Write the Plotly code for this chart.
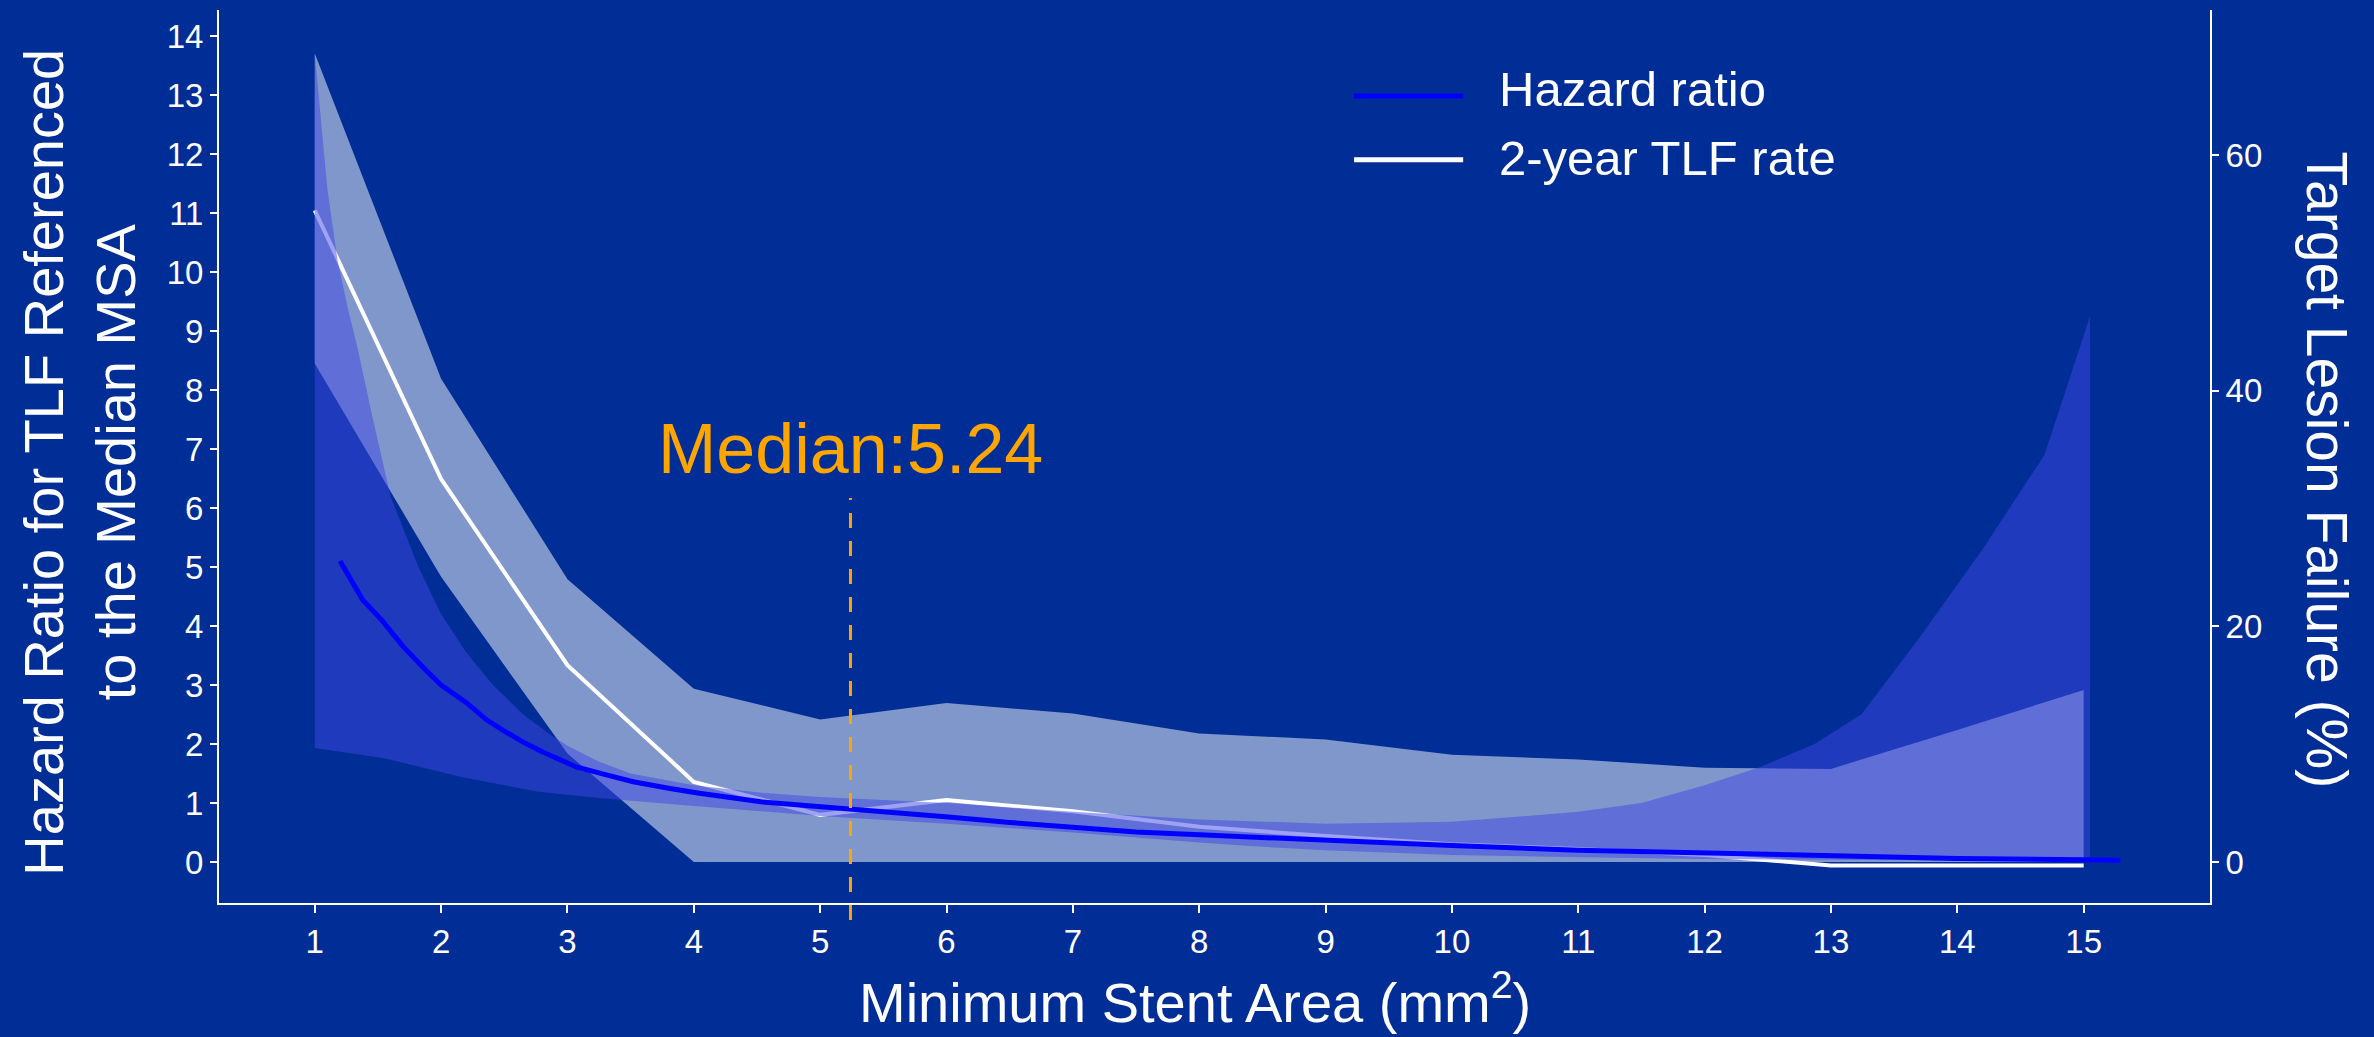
import plotly.graph_objects as go

# ---------------- data ----------------
BG = "#002E96"
FONT = "Liberation Sans, Arial, sans-serif"

X_TICKS = list(range(1, 16))
HR_TICKS = list(range(0, 15))
PCT_TICKS = [0, 20, 40, 60]

MEDIAN_MSA = 5.24
MEDIAN_LABEL = "Median:5.24"

# Hazard ratio (left axis)
hr_x = [1.2, 1.38, 1.53, 1.7, 1.88, 2.0, 2.2, 2.36, 2.5, 2.66, 2.8, 3.07, 3.3, 3.52,
        3.8, 4.03, 4.53, 5.0, 5.24, 5.5, 6.04, 6.5, 7.06, 7.5, 8.0, 8.41, 9.0, 10.0,
        11.0, 12.0, 13.0, 14.0, 15.0, 15.29]
hr_y = [5.1, 4.44, 4.10, 3.65, 3.25, 3.0, 2.7, 2.41, 2.22, 2.02, 1.87, 1.61, 1.48, 1.36,
        1.25, 1.17, 1.02, 0.94, 0.91, 0.87, 0.76, 0.67, 0.59, 0.51, 0.46, 0.42, 0.36, 0.28,
        0.2, 0.15, 0.1, 0.06, 0.04, 0.03]

# Hazard ratio 95% CI
hr_up_x = [1.0, 1.05, 1.1, 1.18, 1.26, 1.34, 1.45, 1.6, 1.82, 2.0, 2.2, 2.41, 2.65, 2.87,
           3.0, 3.25, 3.5, 4.0, 4.5, 5.0, 5.5, 6.0, 7.0, 8.0, 9.0, 10.0, 11.0, 11.5, 12.0,
           12.43, 12.87, 13.24, 13.7, 14.2, 14.69, 15.05]
hr_up = [13.7, 12.5, 11.4, 10.2, 9.4, 8.7, 7.6, 6.2, 5.0, 4.2, 3.55, 3.0, 2.5, 2.15,
         1.97, 1.7, 1.5, 1.3, 1.18, 1.1, 1.05, 1.0, 0.85, 0.72, 0.65, 0.68, 0.85, 1.0, 1.3,
         1.6, 2.0, 2.5, 3.8, 5.3, 6.9, 9.25]
hr_lo_x = [1.0, 1.55, 2.16, 2.77, 3.27, 4.0, 5.0, 5.24, 6.0, 7.0, 8.0, 8.4, 9.0, 10.0,
           11.0, 12.0, 13.0, 14.0, 15.05]
hr_lo = [1.93, 1.76, 1.44, 1.19, 1.08, 0.95, 0.78, 0.75, 0.65, 0.5, 0.33, 0.27, 0.2, 0.12,
         0.08, 0.05, 0.03, 0.02, 0.01]

# 2-year TLF rate (right axis, %)
tlf_x = list(range(1, 16))
tlf_rate = [55.3, 32.5, 16.7, 6.8, 4.0, 5.25, 4.3, 3.0, 2.2, 1.5, 1.1, 0.6, -0.3, -0.3, -0.3]
tlf_upper = [68.6, 41.0, 24.0, 14.7, 12.1, 13.5, 12.6, 10.9, 10.4, 9.1, 8.7, 8.0, 7.9, 11.2, 14.6]
tlf_lower = [42.3, 24.2, 9.2, 0, 0, 0, 0, 0, 0, 0, 0, 0, 0, 0, 0]

LEGEND_NAMES = ["Hazard ratio", "2-year TLF rate"]

# ---------------- figure ----------------
fig = go.Figure()

fig.add_trace(go.Scatter(
    x=tlf_x + tlf_x[::-1], y=tlf_upper + tlf_lower[::-1],
    fill="toself", fillcolor="rgba(255,255,255,0.5)", mode="lines",
    line=dict(width=0), yaxis="y", hoverinfo="skip", showlegend=False))
fig.add_trace(go.Scatter(
    x=tlf_x, y=tlf_rate, mode="lines", name=LEGEND_NAMES[1],
    line=dict(color="white", width=4), yaxis="y"))
fig.add_trace(go.Scatter(
    x=hr_up_x + hr_lo_x[::-1], y=hr_up + hr_lo[::-1],
    fill="toself", fillcolor="rgba(64,70,230,0.5)", mode="lines",
    line=dict(width=0), yaxis="y2", hoverinfo="skip", showlegend=False))
fig.add_trace(go.Scatter(
    x=hr_x, y=hr_y, mode="lines", name=LEGEND_NAMES[0],
    line=dict(color="#0000FF", width=5), yaxis="y2"))

axis_common = dict(
    ticks="outside", tickcolor="white", tickwidth=2, showline=True,
    linecolor="white", linewidth=2, showgrid=False, zeroline=False,
    tickfont=dict(family=FONT, size=33, color="white"))

fig.update_layout(
    width=2374, height=1037,
    margin=dict(l=219, r=164, t=10, b=134, pad=0),
    paper_bgcolor=BG, plot_bgcolor=BG,
    showlegend=False,
    font=dict(family=FONT, color="white"),
    xaxis=dict(range=[0.242, 16.0], tickvals=X_TICKS, ticklen=8, **axis_common),
    yaxis=dict(range=[-3.48, 72.3], tickvals=PCT_TICKS, side="right", ticklen=7,
               **axis_common),
    yaxis2=dict(range=[-0.695, 14.44], tickvals=HR_TICKS, side="left", overlaying="y",
                ticklen=7, **axis_common),
)

# median line
fig.add_shape(type="line", xref="x", yref="paper", x0=MEDIAN_MSA, x1=MEDIAN_MSA,
              y0=-0.019, y1=0.4535, line=dict(color="#FFA500", width=3, dash="15px,13px"))

annotations = [
    dict(x=MEDIAN_MSA, y=7, xref="x", yref="y2", text=MEDIAN_LABEL, showarrow=False,
         font=dict(family=FONT, size=70, color="#FFA500"), xanchor="center", yanchor="middle"),
    dict(x=0.4902, y=-0.107, xref="paper", yref="paper",
         text="Minimum Stent Area (mm<sup>2</sup>)", showarrow=False,
         font=dict(family=FONT, size=56, color="white"), xanchor="center", yanchor="middle"),
    dict(x=-0.0700, y=0.4938, xref="paper", yref="paper",
         text="Hazard Ratio for TLF Referenced<br>to the Median MSA", showarrow=False,
         textangle=-90, font=dict(family=FONT, size=56, color="white"),
         xanchor="center", yanchor="middle"),
    dict(x=1.0590, y=0.4849, xref="paper", yref="paper",
         text="Target Lesion Failure (%)", showarrow=False, textangle=90,
         font=dict(family=FONT, size=57, color="white"), xanchor="center", yanchor="middle"),
    dict(x=0.6419, y=0.911, xref="paper", yref="paper", text=LEGEND_NAMES[0],
         showarrow=False, font=dict(family=FONT, size=49, color="white"),
         xanchor="left", yanchor="middle"),
    dict(x=0.6419, y=0.8348, xref="paper", yref="paper", text=LEGEND_NAMES[1],
         showarrow=False, font=dict(family=FONT, size=49, color="white"),
         xanchor="left", yanchor="middle"),
]
fig.update_layout(annotations=annotations)

# legend line samples
fig.add_shape(type="line", xref="paper", yref="paper", x0=0.5701, x1=0.6249,
              y0=0.9037, y1=0.9037, line=dict(color="#0000FF", width=5))
fig.add_shape(type="line", xref="paper", yref="paper", x0=0.5701, x1=0.6249,
              y0=0.8324, y1=0.8324, line=dict(color="white", width=5))

fig.write_html("out.html", config={"displayModeBar": False},
               post_script="document.body.style.margin='0';")
